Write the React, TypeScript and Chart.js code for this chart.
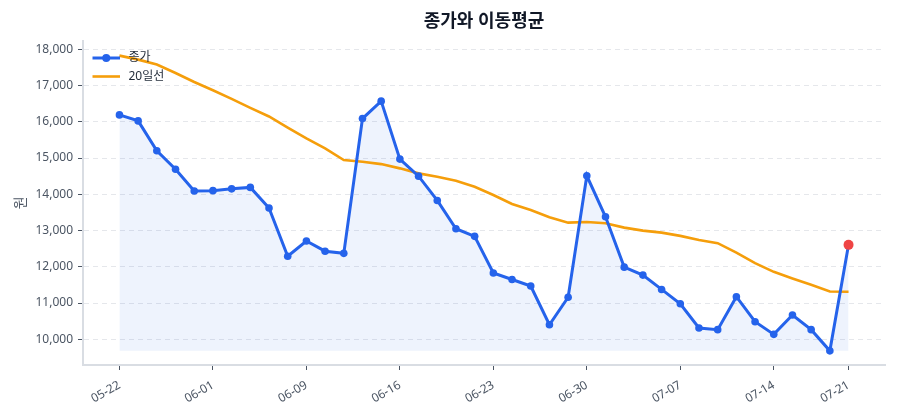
import { useEffect, useRef } from 'react';
import { Chart, registerables } from 'chart.js';

Chart.register(...registerables);

const TITLE = '종가와 이동평균';
const Y_TITLE = '원';
const SERIES_NAMES = ['종가', '20일선'];

// x positions (trading-day index) where date labels are shown
const X_TICK_INDEX = [0, 5, 10, 15, 20, 25, 30, 35, 39];
const X_TICK_LABELS = ['05-22', '06-01', '06-09', '06-16', '06-23', '06-30', '07-07', '07-14', '07-21'];

const Y_TICKS = [10000, 11000, 12000, 13000, 14000, 15000, 16000, 17000, 18000];

const CLOSE = [
  16190, 16025, 15200, 14690, 14090, 14100, 14150, 14190, 13620, 12290,
  12710, 12430, 12370, 16090, 16570, 14970, 14500, 13830, 13050, 12840,
  11830, 11650, 11470, 10400, 11160, 14510, 13380, 11990, 11770, 11375,
  10980, 10310, 10265, 11175, 10485, 10135, 10670, 10265, 9680, 12605,
];

const MA20 = [
  17825, 17715, 17578, 17347, 17099, 16870, 16631, 16383, 16146, 15838,
  15541, 15266, 14944, 14897, 14833, 14715, 14577, 14484, 14374, 14209,
  13980, 13732, 13567, 13366, 13218, 13237, 13201, 13080, 12997, 12942,
  12852, 12741, 12651, 12392, 12100, 11861, 11676, 11503, 11318, 11310,
];

const BLUE = '#2563eb';
const ORANGE = '#f59e0b';
const RED = '#ef4444';
const FONT = "'Noto Sans', 'Noto Sans CJK KR', sans-serif";

const legendPlugin = {
  id: 'insideLegend',
  afterDraw(chart: any) {
    const ctx = chart.ctx;
    const x0 = 92.5;
    const x1 = 120;
    const rows = [58, 76.5];
    ctx.save();
    ctx.lineCap = 'butt';
    ctx.strokeStyle = BLUE;
    ctx.lineWidth = 3;
    ctx.beginPath();
    ctx.moveTo(x0, rows[0]);
    ctx.lineTo(x1, rows[0]);
    ctx.stroke();
    ctx.fillStyle = BLUE;
    ctx.beginPath();
    ctx.arc((x0 + x1) / 2, rows[0], 4, 0, Math.PI * 2);
    ctx.fill();
    ctx.strokeStyle = ORANGE;
    ctx.lineWidth = 2.6;
    ctx.beginPath();
    ctx.moveTo(x0, rows[1]);
    ctx.lineTo(x1, rows[1]);
    ctx.stroke();
    ctx.fillStyle = '#1f2937';
    ctx.font = `12px ${FONT}`;
    ctx.textBaseline = 'middle';
    ctx.textAlign = 'left';
    ctx.fillText(SERIES_NAMES[0], 128.5, rows[0]);
    ctx.fillText(SERIES_NAMES[1], 128.5, rows[1]);
    ctx.restore();
  },
};

export default function App() {
  const ref = useRef<HTMLCanvasElement | null>(null);

  useEffect(() => {
    document.body.style.margin = '0';
    const canvas = ref.current;
    if (!canvas) return;
    const n = CLOSE.length;
    const fillBase = Math.min(...CLOSE);
    const chart = new Chart(canvas, {
      type: 'line',
      data: {
        datasets: [
          {
            label: SERIES_NAMES[0],
            data: CLOSE.map((v, i) => ({ x: i, y: v })),
            borderColor: BLUE,
            borderWidth: 3,
            backgroundColor: 'rgba(37,99,235,0.08)',
            fill: { value: fillBase },
            pointRadius: CLOSE.map((_, i) => (i === n - 1 ? 5 : 3.8)),
            pointBackgroundColor: CLOSE.map((_, i) => (i === n - 1 ? RED : BLUE)),
            pointBorderColor: CLOSE.map((_, i) => (i === n - 1 ? RED : BLUE)),
            pointBorderWidth: 0,
            tension: 0,
          },
          {
            label: SERIES_NAMES[1],
            data: MA20.map((v, i) => ({ x: i, y: v })),
            borderColor: ORANGE,
            borderWidth: 2.6,
            pointRadius: 0,
            fill: false,
            tension: 0,
          },
        ],
      },
      options: {
        animation: false,
        responsive: true,
        maintainAspectRatio: false,
        layout: { padding: { left: 0, right: 15, top: 0, bottom: 0 } },
        plugins: {
          legend: { display: false },
          tooltip: { enabled: false },
          filler: { drawTime: 'beforeDatasetsDraw' },
          title: {
            display: true,
            text: TITLE,
            fullSize: false,
            color: '#111827',
            font: { family: FONT, size: 18, weight: 'bold' },
            padding: { top: 11, bottom: 8 },
          },
        },
        scales: {
          x: {
            type: 'linear',
            min: -1.95,
            max: 40.95,
            afterBuildTicks: (scale: any) => {
              scale.ticks = X_TICK_INDEX.map((v) => ({ value: v }));
            },
            afterFit: (scale: any) => {
              scale.height = 55;
            },
            ticks: {
              autoSkip: false,
              minRotation: 30,
              maxRotation: 30,
              padding: 8,
              color: '#4b5563',
              font: { family: FONT, size: 12 },
              callback: (_v: any, i: number) => X_TICK_LABELS[i],
            },
            grid: {
              display: true,
              drawOnChartArea: false,
              tickLength: 5,
              tickColor: '#4b5563',
              tickWidth: 1,
            },
            border: { display: true, color: '#d9dde3', width: 2 },
          },
          y: {
            type: 'linear',
            min: 9290,
            max: 18240,
            afterBuildTicks: (scale: any) => {
              scale.ticks = Y_TICKS.map((v) => ({ value: v }));
            },
            afterFit: (scale: any) => {
              scale.width = 83;
            },
            title: {
              display: true,
              text: Y_TITLE,
              color: '#4b5563',
              font: { family: FONT, size: 14 },
              padding: { top: 13, bottom: 0 },
            },
            ticks: {
              padding: 5,
              color: '#4b5563',
              font: { family: FONT, size: 12 },
              callback: (v: any) => Number(v).toLocaleString('en-US'),
            },
            grid: {
              color: '#e5e7eb',
              lineWidth: 1,
              tickLength: 5,
              tickColor: '#4b5563',
              tickBorderDash: [],
            },
            border: { display: true, color: '#d9dde3', width: 2, dash: [5, 4] },
          },
        },
      },
      plugins: [legendPlugin],
    } as any);
    return () => chart.destroy();
  }, []);

  return (
    <div style={{ width: 900, height: 420, position: 'relative' }}>
      <canvas ref={ref} />
    </div>
  );
}
